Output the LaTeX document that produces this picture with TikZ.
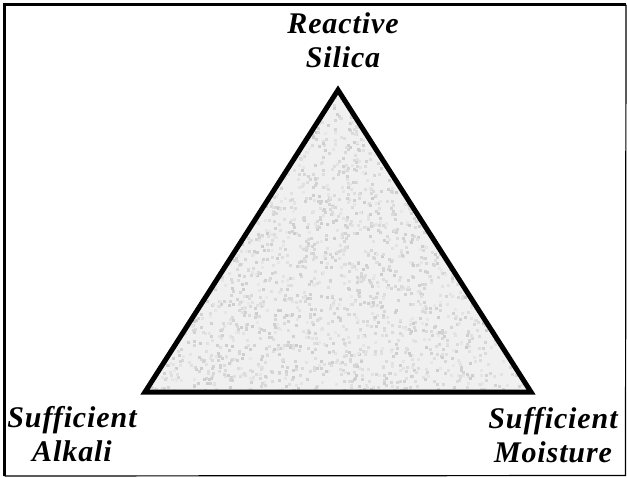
\documentclass[tikz,border=0pt]{standalone}
\usepackage{fontspec}
\setmainfont{Liberation Serif}
\newfontfamily\lblfont[LetterSpace=3]{Liberation Serif}
\begin{document}
\begin{tikzpicture}[x=1pt,y=-1pt,
  lbl/.style={font=\lblfont\bfseries\itshape\fontsize{30}{34}\selectfont, align=center, inner sep=0pt},
  frame/.style={draw=black},
  tri/.style={draw=black, line width=5pt, line join=miter}]
\useasboundingbox (0,0) rectangle (627,477);
% outer frame
\coordinate (f1) at (4.5,476);
\coordinate (f2) at (4.5,4.5);
\coordinate (f3) at (626,4.5);
\coordinate (f4) at (625.5,475.5);
\draw[frame, line width=3pt] (f1) -- (f2) -- (f3);
\draw[frame, line width=1.2pt] (f3) -- (f4) -- (f1);
% triangle
\coordinate (A) at (338,90);
\coordinate (B) at (145,392);
\coordinate (C) at (531,392);
\fill[black!6] (A) -- (B) -- (C) -- cycle;
\begin{scope}
  \clip (A) -- (B) -- (C) -- cycle;
  \pgfmathsetseed{7}
  \foreach \i in {1,...,3200} {
    \pgfmathsetmacro{\px}{145+386*rnd}
    \pgfmathsetmacro{\py}{90+302*rnd}
    \pgfmathsetmacro{\pg}{9+11*rnd}
    \fill[black!\pg] (\px,\py) rectangle ++(3,3);
  }
\end{scope}
\draw[tri] (A) -- (B) -- (C) -- cycle;
% labels
\node[lbl] (rs) at (343,40) {Reactive\\Silica};
\node[lbl] (sa) at (72,434) {Sufficient\\Alkali};
\node[lbl] (sm) at (553,435) {Sufficient\\Moisture};
\end{tikzpicture}
\end{document}
